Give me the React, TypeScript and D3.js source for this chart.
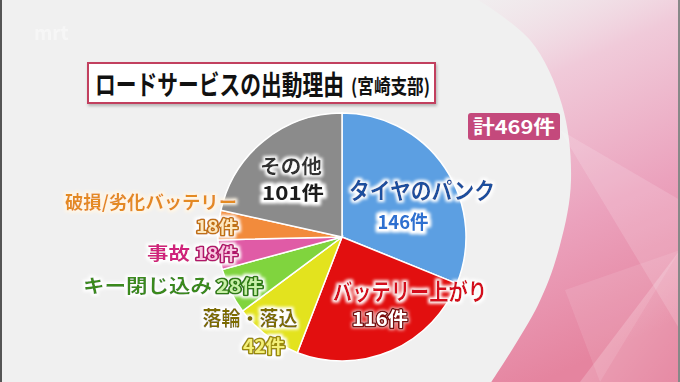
import React from "react";
import * as d3 from "d3";

const categories = ["タイヤのパンク", "バッテリー上がり", "落輪・落込", "キー閉じ込み", "事故", "破損/劣化バッテリー", "その他"];
const values = [146, 116, 42, 28, 18, 18, 101];
const countLabels = ["146件", "116件", "42件", "28件", "18件", "18件", "101件"];
const sliceColors = ["#5c9fe2", "#e20f0f", "#e3e31e", "#80d43e", "#e05ba6", "#f28b3c", "#8b8b8b"];
const title = "ロードサービスの出動理由";
const subtitle = "(宮崎支部)";
const totalLabel = "計469件";

const W = 680;
const H = 382;
const FONT = "'Noto Sans CJK JP', 'Noto Sans', sans-serif";

type TextStyle = { dx: number; dy: number; anchor: string; size: number; len: number; fill: string; halo: string; stroke?: string };
type LabelStyle = { name: TextStyle; count: TextStyle };

const cx = 342;
const cy = 237;
const R = 124;

// label layout (per category index), relative to pie center
const labelLayout: LabelStyle[] = [
  {
    name: { dx: 80, dy: -38, anchor: "middle", size: 23, len: 146, fill: "#1b4f9e", halo: "white" },
    count: { dx: 61, dy: -8, anchor: "middle", size: 19, len: 51, fill: "#2f6fd0", halo: "white", stroke: "#ffffff" },
  },
  {
    name: { dx: 68, dy: 63, anchor: "middle", size: 23, len: 154, fill: "#d4101c", halo: "white" },
    count: { dx: 38, dy: 89, anchor: "middle", size: 19, len: 56, fill: "#ffffff", halo: "dark", stroke: "#7a0a0a" },
  },
  {
    name: { dx: -92, dy: 89, anchor: "middle", size: 20, len: 95, fill: "#7d6c06", halo: "white" },
    count: { dx: -78, dy: 116, anchor: "middle", size: 18, len: 42, fill: "#f4f07a", halo: "white", stroke: "#9a8a10" },
  },
  {
    name: { dx: -130, dy: 56, anchor: "end", size: 19, len: 129, fill: "#3a8a1c", halo: "white" },
    count: { dx: -126, dy: 56, anchor: "start", size: 18, len: 47, fill: "#c8f0a8", halo: "white", stroke: "#2f7a14" },
  },
  {
    name: { dx: -152, dy: 23, anchor: "end", size: 18, len: 43, fill: "#d0207c", halo: "white" },
    count: { dx: -147, dy: 23, anchor: "start", size: 17, len: 43, fill: "#f8c8e0", halo: "white", stroke: "#b0186a" },
  },
  {
    name: { dx: -105, dy: -28, anchor: "end", size: 18, len: 172, fill: "#e48a22", halo: "cream" },
    count: { dx: -104, dy: -4, anchor: "end", size: 17, len: 42, fill: "#fde8c0", halo: "white", stroke: "#c07018" },
  },
  {
    name: { dx: -51, dy: -63, anchor: "middle", size: 20, len: 62, fill: "#333333", halo: "white" },
    count: { dx: -49, dy: -37, anchor: "middle", size: 19, len: 62, fill: "#1a1a1a", halo: "white", stroke: "#ffffff" },
  },
];

const haloColors: Record<string, string> = { white: "#ffffff", cream: "#fff6e6", dark: "#ffffff" };

function LabelText(props: { x: number; y: number; text: string; s: TextStyle }) {
  const { x, y, text, s } = props;
  return (
    <text
      x={x}
      y={y}
      fontSize={s.size}
      fontFamily={FONT}
      fontWeight={700}
      textAnchor={s.anchor as any}
      textLength={s.len}
      lengthAdjust="spacingAndGlyphs"
      fill={s.fill}
      stroke={s.stroke || "none"}
      strokeWidth={s.stroke ? 3 : 0}
      strokeLinejoin="round"
      paintOrder="stroke"
      filter={`url(#halo-${s.halo})`}
    >
      {text}
    </text>
  );
}

export default function App() {
  const pie = d3.pie<number>().sort(null).value((d) => d)(values);
  const arc = d3.arc<d3.PieArcDatum<number>>().innerRadius(0).outerRadius(R);

  // decorative pink backdrop boundary
  const edge: [number, number][] = [
    [470, -5], [530, 40], [562, 105], [571, 180], [560, 245], [538, 305], [486, 390],
  ];
  const edgePath = d3.line().curve(d3.curveCatmullRom)(edge) || "";
  const bgPath = edgePath + ` L ${W + 5} 390 L ${W + 5} -5 Z`;

  return (
    <svg width={W} height={H} style={{ position: "absolute", left: 0, top: 0, display: "block" }}>
      <defs>
        <linearGradient id="pinkGrad" x1="0" y1="0" x2="0.25" y2="1">
          <stop offset="0" stopColor="#f2e4ea" stopOpacity={0.15} />
          <stop offset="0.28" stopColor="#f0c8d8" stopOpacity={0.95} />
          <stop offset="0.65" stopColor="#eba2bd" />
          <stop offset="1" stopColor="#e5849f" />
        </linearGradient>
        <linearGradient id="facet" x1="0" y1="0" x2="1" y2="1">
          <stop offset="0" stopColor="#ffffff" stopOpacity={0.35} />
          <stop offset="1" stopColor="#ffffff" stopOpacity={0.05} />
        </linearGradient>
        {Object.keys(haloColors).map((k) => (
          <filter key={k} id={`halo-${k}`} x="-15%" y="-40%" width="130%" height="180%">
            <feMorphology in="SourceAlpha" operator="dilate" radius={k === "dark" ? 1 : 2.4} result="d" />
            <feGaussianBlur in="d" stdDeviation={1.4} result="b" />
            <feFlood floodColor={haloColors[k]} floodOpacity={k === "dark" ? 0.6 : 1} />
            <feComposite in2="b" operator="in" result="h" />
            <feMerge>
              <feMergeNode in="h" />
              <feMergeNode in="SourceGraphic" />
            </feMerge>
          </filter>
        ))}
        <filter id="shadow" x="-10%" y="-20%" width="120%" height="150%">
          <feDropShadow dx="1" dy="2" stdDeviation="1.5" floodColor="#000" floodOpacity="0.25" />
        </filter>
      </defs>
      <rect x={0} y={0} width={W} height={H} fill="#f0f0f0" />
      <path d={bgPath} fill="url(#pinkGrad)" />
      <path d={`M 580 382 L 680 250 L 680 382 Z`} fill="url(#facet)" />
      <path d={`M 560 130 L 680 330 L 680 200 Z`} fill="#ffffff" opacity={0.15} />
      <path d={`M 600 382 L 565 290 L 680 250 Z`} fill="#ffffff" opacity={0.1} />
      <rect x={0} y={0} width={2} height={H} fill="#555" />
      <rect x={W - 2} y={0} width={2} height={H} fill="#888" />
      <text x={34} y={40} fontSize={19} fontFamily={FONT} fontWeight={700} fill="#ffffff" opacity={0.45}>mrt</text>

      {/* title */}
      <rect x={88} y={63} width={347} height={40} fill="#ffffff" stroke="#c2405e" strokeWidth={2} filter="url(#shadow)" />
      <text x={95} y={95} fontSize={27} fontFamily={FONT} fontWeight={700} fill="#111" textLength={249} lengthAdjust="spacingAndGlyphs">
        {title}
      </text>
      <text x={351} y={94} fontSize={20} fontFamily={FONT} fontWeight={700} fill="#111" textLength={79} lengthAdjust="spacingAndGlyphs">
        {subtitle}
      </text>

      {/* total */}
      <rect x={468} y={113} width={92} height={27} rx={3} fill="#c4497c" />
      <text x={514} y={134} fontSize={19} fontFamily={FONT} fontWeight={700} fill="#ffffff" textAnchor="middle" textLength={82} lengthAdjust="spacingAndGlyphs">
        {totalLabel}
      </text>

      {/* pie */}
      <g transform={`translate(${cx},${cy})`}>
        {pie.map((p, i) => (
          <path key={categories[i]} d={arc(p) || ""} fill={sliceColors[i]} stroke="#ffffff" strokeWidth={1.5} />
        ))}
      </g>

      {/* labels */}
      {categories.map((c, i) => {
        const L = labelLayout[i];
        return (
          <g key={"lbl" + c}>
            <LabelText x={cx + L.name.dx} y={cy + L.name.dy} text={c} s={L.name} />
            <LabelText x={cx + L.count.dx} y={cy + L.count.dy} text={countLabels[i]} s={L.count} />
          </g>
        );
      })}
    </svg>
  );
}
